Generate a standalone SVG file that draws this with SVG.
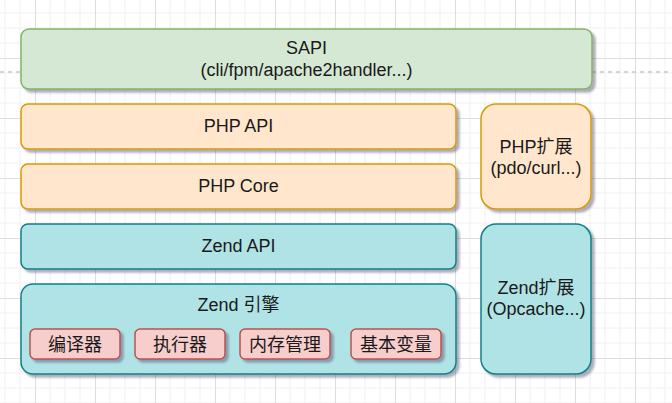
<svg xmlns="http://www.w3.org/2000/svg" width="672" height="403" viewBox="0 0 672 403">
<defs>
<pattern id="grid" x="35" y="58" width="60" height="60" patternUnits="userSpaceOnUse">
<path d="M15 0V60M30 0V60M45 0V60M0 15H60M0 30H60M0 45H60" stroke="#f0f0f0" stroke-width="1" fill="none"/>
<path d="M0.5 0V60M0 0.5H60" stroke="#dedede" stroke-width="1" fill="none"/>
</pattern>
<filter id="sh" x="-10%" y="-10%" width="130%" height="140%">
<feDropShadow dx="3" dy="3" stdDeviation="1.2" flood-color="#4a4a6a" flood-opacity="0.45"/>
</filter>
<style>
.t{font-family:"Liberation Sans","Noto Sans CJK SC",sans-serif;font-size:18px;fill:#1a1a1a;text-anchor:middle}
.g{fill:#d5e8d4;stroke:#82b366;stroke-width:1.5;filter:url(#sh)}
.o{fill:#ffe6cc;stroke:#d79b00;stroke-width:1.5;filter:url(#sh)}
.c{fill:#b0e3e6;stroke:#0e8088;stroke-width:1.5;filter:url(#sh)}
.r{fill:#f8cecc;stroke:#b85450;stroke-width:1.5;filter:url(#sh)}
</style>
</defs>
<rect width="672" height="403" fill="#ffffff"/>
<rect width="672" height="403" fill="url(#grid)"/>
<line x1="0" y1="72" x2="672" y2="72" stroke="#c8c8c8" stroke-width="1.5" stroke-dasharray="4 4"/>
<g id="connectors"/>
<g id="sapi">
<rect class="g" x="21" y="29" width="571" height="60" rx="8"/>
<text class="t" x="306.5" y="54">SAPI</text>
<text class="t" x="306.5" y="76">(cli/fpm/apache2handler...)</text>
</g>
<g id="php-api">
<rect class="o" x="21" y="104" width="435" height="45" rx="7"/>
<text class="t" x="238.5" y="132">PHP API</text>
</g>
<g id="php-core">
<rect class="o" x="21" y="164" width="435" height="45" rx="7"/>
<text class="t" x="238.5" y="192">PHP Core</text>
</g>
<g id="zend-api">
<rect class="c" x="21" y="224" width="435" height="45" rx="7"/>
<text class="t" x="238.5" y="252">Zend API</text>
</g>
<g id="zend-engine">
<rect class="c" x="21" y="284" width="435" height="90" rx="12"/>
<text class="t" x="238.5" y="311">Zend 引擎</text>
<g id="compiler">
<rect class="r" x="30" y="329" width="90" height="30" rx="5"/>
<text class="t" x="75" y="350.5">编译器</text>
</g>
<g id="executor">
<rect class="r" x="135" y="329" width="90" height="30" rx="5"/>
<text class="t" x="180" y="350.5">执行器</text>
</g>
<g id="memory">
<rect class="r" x="240" y="329" width="90" height="30" rx="5"/>
<text class="t" x="285" y="350.5">内存管理</text>
</g>
<g id="variables">
<rect class="r" x="351" y="329" width="90" height="30" rx="5"/>
<text class="t" x="396" y="350.5">基本变量</text>
</g>
</g>
<g id="php-ext">
<rect class="o" x="481" y="104" width="110" height="105" rx="15"/>
<text class="t" x="536" y="152.5">PHP扩展</text>
<text class="t" x="536" y="173.5">(pdo/curl...)</text>
</g>
<g id="zend-ext">
<rect class="c" x="481" y="224" width="110" height="150" rx="15"/>
<text class="t" x="536" y="294">Zend扩展</text>
<text class="t" x="536" y="315">(Opcache...)</text>
</g>
</svg>
